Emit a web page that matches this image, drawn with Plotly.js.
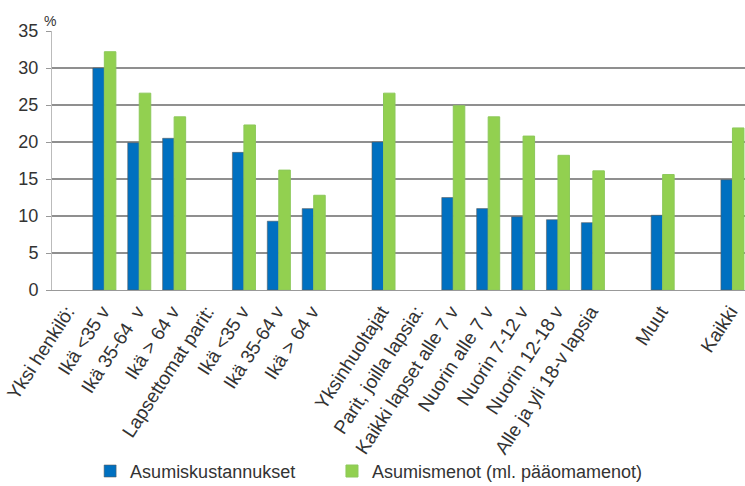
<!DOCTYPE html>
<html>
<head>
<meta charset="utf-8">
<script src="https://cdn.plot.ly/plotly-3.0.1.min.js"></script>
<style>html,body{margin:0;padding:0;background:#fff;}#chart{width:745px;height:486px;}</style>
</head>
<body>
<div id="chart"></div>
<script>
const categories = ['Yksi henkilö:', 'Ikä <35 v', 'Ikä 35-64\u00a0 v', 'Ikä > 64 v', 'Lapsettomat parit:', 'Ikä <35 v', 'Ikä 35-64 v', 'Ikä > 64 v', '', 'Yksinhuoltajat', 'Parit, joilla lapsia:', 'Kaikki lapset alle 7 v', 'Nuorin alle 7 v', 'Nuorin 7-12 v', 'Nuorin 12-18 v', 'Alle ja yli 18-v lapsia', '', 'Muut', '', 'Kaikki'];
const asumiskustannukset = [null, 30.0, 19.9, 20.5, null, 18.6, 9.3, 11.0, null, 20.0, null, 12.5, 11.0, 9.9, 9.5, 9.1, null, 10.1, null, 14.9];
const asumismenot = [null, 32.2, 26.6, 23.4, null, 22.3, 16.2, 12.8, null, 26.6, null, 24.9, 23.4, 20.8, 18.2, 16.1, null, 15.6, null, 21.9];
const yTicks = [0, 5, 10, 15, 20, 25, 30, 35];

const idx = categories.map((c, i) => i);
const fontFam = 'Liberation Sans, Arial, sans-serif';

const traces = [
  {type: 'bar', name: 'Asumiskustannukset', x: idx, y: asumiskustannukset, legend: 'legend',
   marker: {color: '#0070c0', line: {color: 'rgba(90,90,90,0.55)', width: 1}}},
  {type: 'bar', name: 'Asumismenot (ml. pääomamenot)', x: idx, y: asumismenot, legend: 'legend2',
   marker: {color: '#92d050', line: {color: 'rgba(140,200,90,1)', width: 1}}}
];

const legendBase = {orientation: 'h', xanchor: 'left', y: -0.70, yanchor: 'middle',
                    font: {size: 18, color: '#333'}, itemwidth: 30, bgcolor: 'rgba(0,0,0,0)'};

const layout = {
  width: 745, height: 486,
  margin: {l: 52, r: 0, t: 31, b: 196, autoexpand: false},
  paper_bgcolor: '#fff', plot_bgcolor: '#fff',
  font: {family: fontFam, size: 18, color: '#333'},
  barmode: 'group', bargap: 0.34, bargroupgap: 0,
  showlegend: true,
  legend: Object.assign({}, legendBase, {x: 0.055}),
  legend2: Object.assign({}, legendBase, {x: 0.404}),
  xaxis: {type: 'linear', range: [-0.5, 19.36], tickmode: 'array', tickvals: idx, ticktext: categories,
          tickangle: -57, ticks: 'outside', ticklen: 2, tickcolor: 'rgba(0,0,0,0)',
          ticklabelshift: -2, automargin: false,
          showline: true, linecolor: '#999', linewidth: 1, showgrid: false, zeroline: false,
          tickfont: {size: 19, color: '#333'}, fixedrange: true},
  xaxis2: {overlaying: 'x', anchor: 'y', side: 'bottom', matches: 'x', range: [-0.5, 19.36],
           tickmode: 'array', tickvals: idx.concat([idx.length]).map(v => v - 0.5),
           ticks: 'outside', ticklen: 5, tickcolor: '#999', tickwidth: 1,
           showticklabels: false, showgrid: false, zeroline: false, showline: false},
  yaxis: {range: [0, 35], tickmode: 'array', tickvals: yTicks, showgrid: true, gridcolor: '#8f8f8f', gridwidth: 1.2,
          showline: true, linecolor: '#bbb', linewidth: 1, ticks: 'outside', ticklen: 5, tickcolor: '#999',
          ticklabelstandoff: 4, automargin: false,
          zeroline: false, tickfont: {size: 18, color: '#333'}, fixedrange: true},
  annotations: [{text: '%', xref: 'paper', yref: 'paper', x: 0, y: 1, xanchor: 'center', yanchor: 'bottom',
                 xshift: -2, showarrow: false, font: {size: 14, color: '#333'}}]
};

Plotly.newPlot('chart', traces, layout, {displayModeBar: false, staticPlot: true});
</script>
</body>
</html>
